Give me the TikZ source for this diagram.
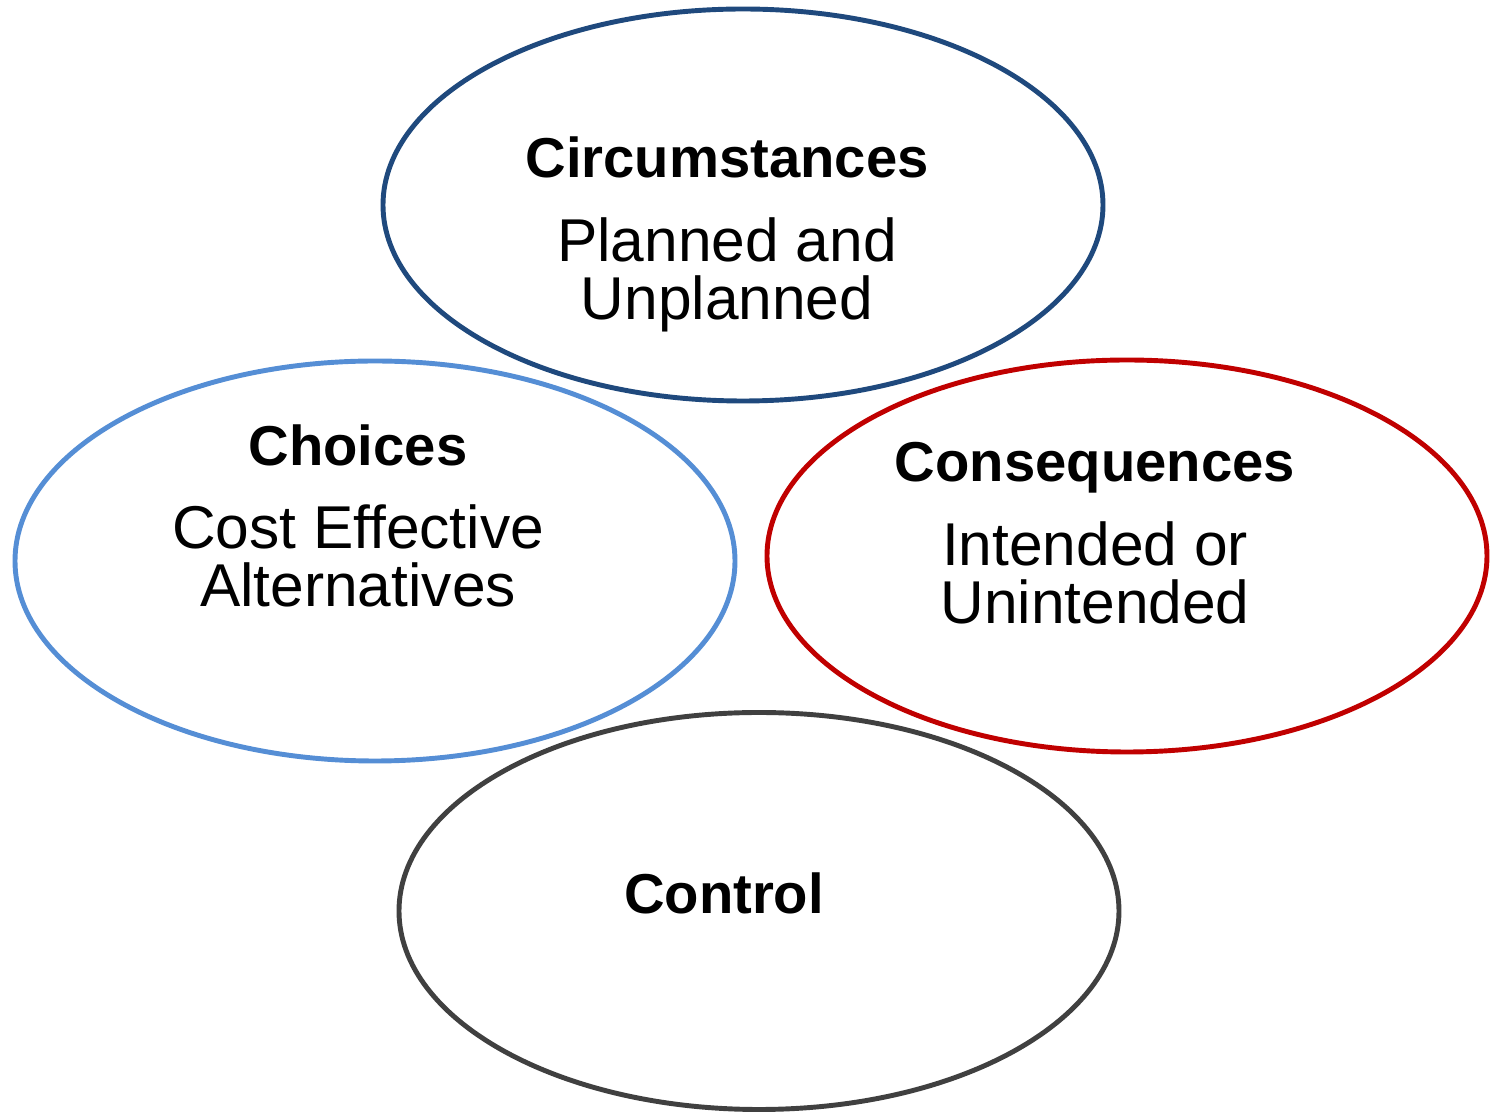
\documentclass[tikz,border=0pt]{standalone}
\usepackage{fontspec}
\setmainfont{Liberation Sans}
\usetikzlibrary{shapes.geometric}
\definecolor{circblue}{HTML}{1F497D}
\definecolor{choiceblue}{HTML}{558ED5}
\definecolor{conseqred}{HTML}{C00000}
\definecolor{ctrlgray}{HTML}{404040}
\tikzset{
	oval/.style={ellipse,draw,line width=1.4pt,inner sep=0pt,minimum width=7.2cm,minimum height=3.92cm},
	head/.style={anchor=base,font=\fontsize{16}{16}\selectfont\bfseries},
	body/.style={anchor=base,font=\fontsize{17.2}{17.2}\selectfont}
}
\begin{document}
\begin{tikzpicture}
	\useasboundingbox(0,0) rectangle (14.94,-11.12);
	% the four ovals
	\node[oval,draw=circblue](circ) at (7.43,-2.05){};
	\node[oval,draw=choiceblue,minimum height=4cm](choi) at (3.75,-5.61){};
	\node[oval,draw=conseqred](cons) at (11.27,-5.56){};
	\node[oval,draw=ctrlgray,minimum height=3.97cm](ctrl) at (7.59,-9.11){};
	% text inside
	\node[head](circH) at (7.27,-1.78){Circumstances};
	\node[body](circA) at (7.27,-2.62){Planned and};
	\node[body](circB) at (7.27,-3.20){Unplanned};
	\node[head](choiH) at (3.58,-4.66){Choices};
	\node[body](choiA) at (3.58,-5.49){Cost Effective};
	\node[body](choiB) at (3.58,-6.07){Alternatives};
	\node[head](consH) at (10.95,-4.82){Consequences};
	\node[body](consA) at (10.95,-5.66){Intended or};
	\node[body](consB) at (10.95,-6.24){Unintended};
	\node[head](ctrlH) at (7.24,-9.14){Control};
\end{tikzpicture}
\end{document}
